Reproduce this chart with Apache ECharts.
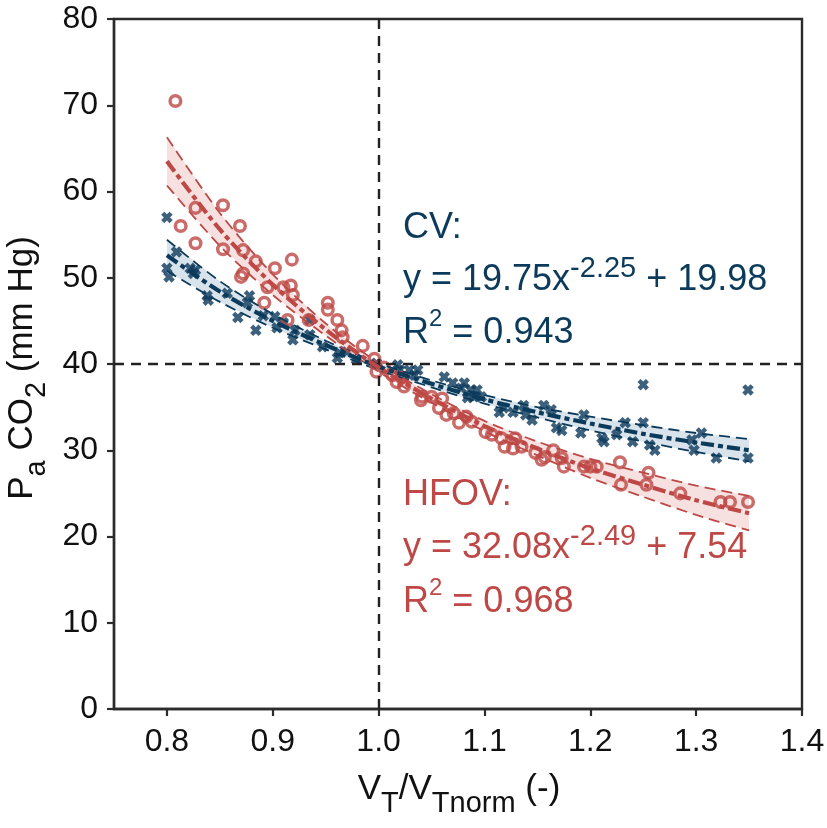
<!DOCTYPE html>
<html>
<head>
<meta charset="utf-8">
<script src="https://cdn.jsdelivr.net/npm/echarts@6/dist/echarts.min.js"></script>
<style>
html,body{margin:0;padding:0;background:#fff;}
#c{width:827px;height:828px;}
</style>
</head>
<body>
<div id="c"></div>
<script>
// ---------- data ----------
var xTicks = [0.8, 0.9, 1.0, 1.1, 1.2, 1.3, 1.4];
var yTicks = [0, 10, 20, 30, 40, 50, 60, 70, 80];
var refX = 1.0;
var refY = 40;

// CV (crosses)
var cvX = [0.800,0.809,0.800,0.802,0.822,0.827,0.825,0.838,0.839,0.857,0.867,0.878,0.876,0.884,0.891,0.904,0.902,0.910,0.919,0.921,0.935,0.935,0.947,0.963,0.970,0.961,0.979,0.998,1.018,1.020,1.029,1.037,1.034,1.062,1.070,1.078,1.081,1.087,1.093,1.090,1.084,1.097,1.114,1.118,1.127,1.137,1.139,1.145,1.156,1.163,1.168,1.173,1.191,1.194,1.211,1.213,1.225,1.233,1.240,1.250,1.256,1.261,1.250,1.296,1.298,1.305,1.319,1.349,1.349];
var cvY = [57.0,53.0,51.1,50.1,51.1,50.9,50.5,47.9,47.4,48.2,45.4,47.9,47.1,43.9,45.6,44.2,45.5,44.8,42.8,43.9,45.1,43.4,42.0,41.3,41.4,40.7,40.5,40.1,39.9,39.3,39.3,39.3,38.7,38.5,37.8,37.2,37.8,37.0,37.0,36.2,36.1,36.2,34.4,34.9,34.4,35.2,34.1,33.5,35.2,34.7,32.6,32.3,32.0,34.1,31.4,31.0,31.8,33.2,31.0,33.2,30.6,30.0,37.6,31.2,30.0,32.0,29.1,29.1,37.0];

// HFOV (circles)
var hfX = [0.808,0.827,0.853,0.813,0.869,0.827,0.853,0.872,0.884,0.918,0.902,0.872,0.870,0.895,0.910,0.917,0.919,0.892,0.914,0.934,0.952,0.952,0.961,0.965,0.966,0.985,0.996,0.998,1.005,1.013,1.017,1.022,1.024,1.041,1.050,1.060,1.040,1.057,1.064,1.071,1.076,1.083,1.088,1.101,1.107,1.116,1.129,1.119,1.127,1.135,1.148,1.157,1.165,1.154,1.173,1.175,1.194,1.200,1.206,1.228,1.229,1.255,1.253,1.285,1.323,1.332,1.349];
var hfY = [70.5,58.1,58.4,56.0,56.0,54.0,53.3,53.2,51.9,52.1,51.1,50.5,50.1,48.9,48.9,49.1,48.0,47.1,45.1,45.1,47.1,46.3,45.1,43.9,43.1,42.1,40.6,39.1,39.6,38.7,37.9,38.4,37.4,36.2,36.2,36.0,35.8,34.9,34.1,34.3,33.2,33.9,33.3,32.1,31.8,31.4,31.4,30.4,30.2,30.4,29.7,29.2,30.0,28.9,29.1,28.1,28.1,28.1,28.1,28.6,26.0,27.4,26.0,25.0,24.0,24.0,24.0];

// fitted curves and confidence bands
var fitX   = [0.80, 0.85, 0.90, 0.95, 1.00, 1.05, 1.10, 1.15, 1.20, 1.25, 1.30, 1.35];
var cvFit  = [52.6, 48.4, 45.0, 42.2, 39.7, 37.7, 35.9, 34.4, 33.1, 31.9, 30.9, 30.0];
var cvHi   = [54.4, 49.6, 45.8, 42.7, 40.1, 38.1, 36.4, 35.0, 33.9, 32.9, 32.0, 31.3];
var cvLo   = [50.8, 47.2, 44.2, 41.7, 39.3, 37.3, 35.4, 33.8, 32.3, 31.0, 29.8, 28.7];
var hfFit  = [63.5, 55.6, 49.2, 44.0, 39.6, 36.0, 32.8, 30.2, 27.9, 26.0, 24.2, 22.7];
var hfHi   = [66.3, 57.5, 50.4, 44.7, 40.1, 36.5, 33.4, 31.0, 29.0, 27.4, 25.9, 24.7];
var hfLo   = [60.7, 53.7, 48.0, 43.3, 39.1, 35.5, 32.2, 29.4, 26.8, 24.6, 22.5, 20.7];

// ---------- styles ----------
var NAVY = '#0c3a5b';
var RED = '#bd4845';
var AXIS = '#2b2b2b';
var TXT = '#111111';
var FONT = '"Liberation Sans", Arial, sans-serif';

function pairs(xs, ys){ return xs.map(function(x,i){ return [x, ys[i]]; }); }

function bandSeries(lo, hi, color){
  return {
    type: 'custom',
    silent: true,
    z: 1,
    data: [0],
    renderItem: function(params, api){
      var pts = [];
      for (var i = 0; i < fitX.length; i++) pts.push(api.coord([fitX[i], hi[i]]));
      for (var j = fitX.length - 1; j >= 0; j--) pts.push(api.coord([fitX[j], lo[j]]));
      return { type: 'polygon', shape: { points: pts }, style: { fill: color } };
    }
  };
}
function lineSeries(ys, color, width, dash, z){
  return {
    type: 'line', data: pairs(fitX, ys), symbol: 'none', smooth: 0.3, silent: true, z: z,
    lineStyle: { color: color, width: width, type: dash }
  };
}

var crossPath = 'path://M0,2.7 L2.7,0 L5,2.3 L7.3,0 L10,2.7 L7.7,5 L10,7.3 L7.3,10 L5,7.7 L2.7,10 L0,7.3 L2.3,5 Z';

var chart = echarts.init(document.getElementById('c'), null, { renderer: 'canvas' });

var option = {
  animation: false,
  backgroundColor: '#fff',
  grid: { left: 114, right: 25, top: 19, bottom: 119, containLabel: false, outerBoundsMode: 'none',
          show: true, borderColor: AXIS, borderWidth: 2.4, backgroundColor: 'transparent' },
  xAxis: {
    type: 'value', min: 0.75, max: 1.4,
    splitLine: { show: false },
    axisLine: { show: true, lineStyle: { color: AXIS, width: 2.4 } },
    axisTick: { show: true, inside: false, length: 7, lineStyle: { color: AXIS, width: 2.2 }, customValues: xTicks },
    axisLabel: { customValues: xTicks, margin: 17, color: TXT, fontFamily: FONT, fontSize: 32,
      formatter: function(v){ return v.toFixed(1); } }
  },
  yAxis: {
    type: 'value', min: 0, max: 80, interval: 10,
    splitLine: { show: false },
    axisLine: { show: true, lineStyle: { color: AXIS, width: 2.4 } },
    axisTick: { show: true, inside: false, length: 7, lineStyle: { color: AXIS, width: 2.2 } },
    axisLabel: { margin: 16, color: TXT, fontFamily: FONT, fontSize: 32,
      formatter: function(v){ return String(v); } }
  },
  series: [
    bandSeries(cvLo, cvHi, 'rgba(186,204,219,0.55)'),
    bandSeries(hfLo, hfHi, 'rgba(234,180,180,0.42)'),
    {
      type: 'line', data: [], silent: true, z: 2,
      markLine: {
        silent: true, symbol: 'none', label: { show: false },
        lineStyle: { color: '#222', width: 2.4, type: [10, 7] },
        data: [{ xAxis: refX }, { yAxis: refY }]
      }
    },
    {
      type: 'scatter', data: pairs(cvX, cvY), symbol: crossPath, symbolSize: 11.5, z: 3,
      itemStyle: { color: NAVY }
    },
    {
      type: 'scatter', data: pairs(hfX, hfY), symbol: 'circle', symbolSize: 10.6, z: 3,
      itemStyle: { color: 'rgba(0,0,0,0)', borderColor: RED, borderWidth: 3.5 }
    },
    lineSeries(cvHi, NAVY, 1.8, [11, 6], 4),
    lineSeries(cvLo, NAVY, 1.8, [11, 6], 4),
    lineSeries(hfHi, RED, 1.8, [11, 6], 4),
    lineSeries(hfLo, RED, 1.8, [11, 6], 4),
    lineSeries(cvFit, NAVY, 4.2, [13, 4, 5, 4], 5),
    lineSeries(hfFit, RED, 4.2, [13, 4, 5, 4], 5)
  ],
  graphic: []
};

// annotation lines: main tokens aligned to bottom of a 44px line, exponents to top
function annot(text, baseline, color){
  return {
    type: 'text', x: 403, y: baseline - 36.6, z: 100, silent: true,
    style: {
      text: text, fill: color, align: 'left', verticalAlign: 'top',
      rich: {
        m: { fontFamily: FONT, fontSize: 36, fill: color, lineHeight: 44, verticalAlign: 'bottom' },
        e: { fontFamily: FONT, fontSize: 29, fill: color, lineHeight: 22, verticalAlign: 'top' },
        r: { fontFamily: FONT, fontSize: 24, fill: color, lineHeight: 18, verticalAlign: 'top' }
      }
    }
  };
}
// axis titles: main tokens at top, subscripts at bottom of a 46px line
var titleRich = {
  m: { fontFamily: FONT, fontSize: 35, fill: TXT, lineHeight: 34, verticalAlign: 'top' },
  s: { fontFamily: FONT, fontSize: 29, fill: TXT, lineHeight: 46, verticalAlign: 'bottom' }
};
option.graphic = [
  annot('{m|CV:}', 239, NAVY),
  annot('{m|y = 19.75x}{e|-2.25}{m| + 19.98}', 291, NAVY),
  annot('{m|R}{r|2}{m| = 0.943}', 344, NAVY),
  annot('{m|HFOV:}', 506, RED),
  annot('{m|y = 32.08x}{e|-2.49}{m| + 7.54}', 559, RED),
  annot('{m|R}{r|2}{m| = 0.968}', 613, RED),
  {
    type: 'text', x: 459, y: 772, silent: true,
    style: { text: '{m|V}{s|T}{m|/V}{s|Tnorm}{m| (-)}', align: 'center', verticalAlign: 'top', rich: titleRich }
  },
  {
    type: 'text', x: 5, y: 368, rotation: Math.PI / 2, silent: true,
    style: { text: '{m|P}{s|a}{m| CO}{s|2}{m| (mm Hg)}', align: 'center', verticalAlign: 'top', rich: titleRich }
  }
];

chart.setOption(option);
</script>
</body>
</html>
